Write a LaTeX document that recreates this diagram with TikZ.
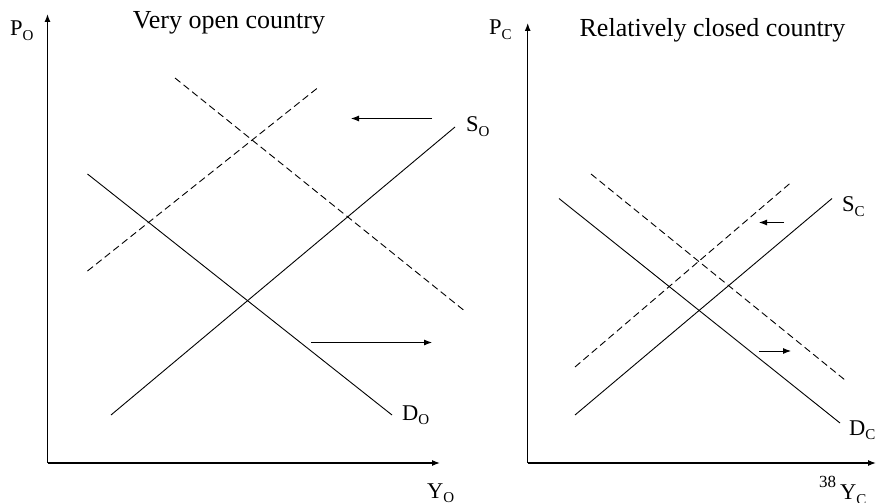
\documentclass[tikz,border=0pt]{standalone}
\usepackage{fontspec}
\setmainfont{Liberation Serif}
\usetikzlibrary{arrows.meta}
\newcommand{\sublbl}[2]{#1\raisebox{-0.22em}{\fontsize{15}{15}\selectfont #2}}
\begin{document}
\begin{tikzpicture}[x=1pt,y=-1pt,
  curve/.style={line width=0.9pt},
  shifted/.style={line width=0.9pt, dash pattern=on 7pt off 4pt},
  axis/.style={line width=1.2pt,-{Latex[length=8pt,width=6pt]}},
  shiftarrow/.style={line width=0.9pt,-{Latex[length=8pt,width=6pt]}},
  lbl/.style={inner sep=0pt, anchor=base west, font=\fontsize{22.5}{26}\selectfont},
  title/.style={inner sep=0pt, anchor=base, font=\fontsize{26}{30}\selectfont}]
\useasboundingbox (0,0) rectangle (876,503);
\clip (0,0) rectangle (876,503);
% ---------- left panel: very open country ----------
\coordinate (lo) at (47.5,463);
\coordinate (lytip) at (47.5,14);
\coordinate (lxtip) at (440,463);
\draw[axis] (lo) -- (lytip);
\draw[axis] (lo) -- (lxtip);
\coordinate (lsa) at (111,415);   \coordinate (lsb) at (455,127);
\coordinate (lda) at (87.5,174);  \coordinate (ldb) at (392,415);
\coordinate (lssa) at (87.5,271); \coordinate (lssb) at (317.5,88);
\coordinate (ldsa) at (175,78);   \coordinate (ldsb) at (463.5,310);
\draw[curve] (lsa) -- (lsb);
\draw[curve] (lda) -- (ldb);
\draw[shifted] (lssa) -- (lssb);
\draw[shifted] (ldsa) -- (ldsb);
\coordinate (la1) at (432,118.5); \coordinate (la2) at (351,118.5);
\coordinate (la3) at (311,342.5); \coordinate (la4) at (432,342.5);
\draw[shiftarrow] (la1) -- (la2);
\draw[shiftarrow] (la3) -- (la4);
\node[lbl] (PO) at (10,35.5) {\sublbl{P}{O}};
\node[title] (T1) at (229,28.5) {Very open country};
\node[lbl] (SO) at (466,131.5) {\sublbl{S}{O}};
\node[lbl] (DO) at (402,420) {\sublbl{D}{O}};
\node[lbl] (YO) at (427,498) {\sublbl{Y}{O}};
% ---------- right panel: relatively closed country ----------
\coordinate (ro) at (527.7,463);
\coordinate (rytip) at (527.7,23);
\coordinate (rxtip) at (876,463);
\draw[axis] (ro) -- (rytip);
\draw[axis] (ro) -- (rxtip);
\coordinate (rsa) at (575,415);   \coordinate (rsb) at (832,198.5);
\coordinate (rda) at (559,198.5); \coordinate (rdb) at (840,423);
\coordinate (rssa) at (575,367);  \coordinate (rssb) at (791,182.5);
\coordinate (rdsa) at (591,174);  \coordinate (rdsb) at (845,380);
\draw[curve] (rsa) -- (rsb);
\draw[curve] (rda) -- (rdb);
\draw[shifted] (rssa) -- (rssb);
\draw[shifted] (rdsa) -- (rdsb);
\coordinate (ra1) at (784,222.5); \coordinate (ra2) at (759,222.5);
\coordinate (ra3) at (759,351);   \coordinate (ra4) at (791,351);
\draw[shiftarrow] (ra1) -- (ra2);
\draw[shiftarrow] (ra3) -- (ra4);
\node[lbl] (PC) at (489,35) {\sublbl{P}{C}};
\node[title] (T2) at (712.5,36.5) {Relatively closed country};
\node[lbl] (SC) at (842,211.5) {\sublbl{S}{C}};
\node[lbl] (DC) at (849,435) {\sublbl{D}{C}};
\node[inner sep=0pt, anchor=base west, font=\fontsize{17}{17}\selectfont] (pg) at (819,487) {38};
\node[lbl] (YC) at (840,499.5) {\sublbl{Y}{C}};
\end{tikzpicture}
\end{document}
